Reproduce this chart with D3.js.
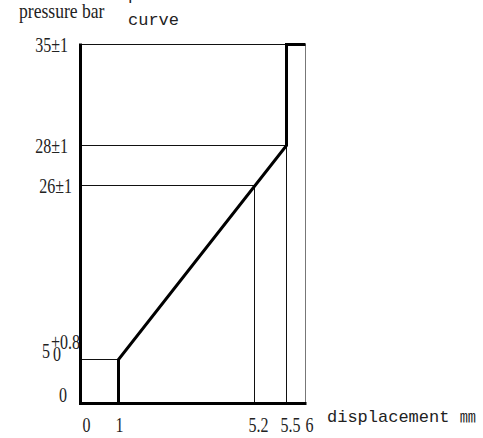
<!DOCTYPE html>
<html>
<head>
<meta charset="utf-8">
<script src="https://cdn.jsdelivr.net/npm/d3@7"></script>
<style>
  body { margin: 0; background: #fff; }
  text { fill: #222; }
  .tick-label { font-family: "Liberation Serif", serif; font-size: 20px; }
  .mono { font-family: "Liberation Mono", monospace; font-size: 17px; }
</style>
</head>
<body>
<svg id="chart" width="483" height="438"></svg>
<script>
// pressure (bar) vs displacement (mm), schematic drawing
const xTickValues = [0, 1, 5.2, 5.5, 6];
const xTickLabels = ['0', '1', '5.2', '5.5', '6'];
const yTickValues = [0, 5, 26, 28, 35];
const yTickLabels = ['0', '5', '26±1', '28±1', '35±1'];
const fiveTolUpper = '+0.8';
const fiveTolLower = '0';

// the thick curve
const curveDisp = [1, 1, 5.5, 5.5, 6];
const curvePress = [0, 5, 28, 35, 35];

// thin guide lines: level reached at a given displacement
const guideDisp = [1, 5.2, 5.5, 6];
const guidePress = [5, 26, 28, 35];

const svg = d3.select('#chart');

// the drawing is not to scale, so piecewise scales
const x = d3.scaleLinear()
    .domain([0, 1, 5.2, 5.5, 6])
    .range([80.5, 118.5, 254.5, 286.5, 305.5]);
const y = d3.scaleLinear()
    .domain([0, 5, 26, 28, 35])
    .range([403.5, 359.5, 185.5, 145.5, 44.5]);

const g = svg.append('g');

// horizontal guides
g.selectAll('.hguide')
    .data(guidePress)
    .enter().append('line')
    .attr('x1', x(0))
    .attr('x2', (d, i) => x(guideDisp[i]))
    .attr('y1', d => y(d))
    .attr('y2', d => y(d))
    .attr('stroke', '#111')
    .attr('stroke-width', 1);

// vertical guides
g.selectAll('.vguide')
    .data(guideDisp)
    .enter().append('line')
    .attr('x1', d => x(d))
    .attr('x2', d => x(d))
    .attr('y1', y(0))
    .attr('y2', (d, i) => y(guidePress[i]))
    .attr('stroke', (d, i) => i === guideDisp.length - 1 ? '#777' : '#111')
    .attr('stroke-width', 1);

// axes as thick lines
g.append('line')
    .attr('x1', x(0)).attr('x2', x(0))
    .attr('y1', y(35) - 1).attr('y2', y(0) + 1.5)
    .attr('stroke', '#000').attr('stroke-width', 3);
g.append('line')
    .attr('x1', x(0) - 1.5).attr('x2', x(6) + 1)
    .attr('y1', y(0)).attr('y2', y(0))
    .attr('stroke', '#000').attr('stroke-width', 3);

const line = d3.line()
    .x(d => x(d[0]))
    .y(d => y(d[1]));

g.append('path')
    .datum(curveDisp.map((d, i) => [d, curvePress[i]]))
    .attr('d', line)
    .attr('fill', 'none')
    .attr('stroke', '#000')
    .attr('stroke-width', 3)
    .attr('stroke-linejoin', 'miter');

// y tick labels (0 and 5 sit a bit above their level)
const yLab = svg.append('g');
yLab.selectAll('text')
    .data(yTickValues)
    .enter().append('text')
    .attr('class', 'tick-label')
    .attr('text-anchor', 'end')
    .attr('transform', (d, i) => {
        const lx = d === 5 ? 50 : (d === 26 ? 72 : (d === 0 ? 67 : 68));
        const ly = y(d) + (d < 10 ? -2 : 7);
        return `translate(${lx},${ly}) scale(0.8,1)`;
    })
    .text((d, i) => yTickLabels[i]);

yLab.append('text')
    .attr('class', 'tick-label')
    .attr('font-size', 12)
    .attr('transform', `translate(51,${y(5) - 11}) scale(0.8,1)`)
    .text(fiveTolUpper);
yLab.append('text')
    .attr('class', 'tick-label')
    .attr('font-size', 12)
    .attr('transform', `translate(53,${y(5) + 1}) scale(0.8,1)`)
    .text(fiveTolLower);

// x tick labels
svg.append('g').selectAll('text')
    .data(xTickValues)
    .enter().append('text')
    .attr('class', 'tick-label')
    .attr('text-anchor', 'middle')
    .attr('transform', (d, i) => `translate(${x(d) + (i === 0 ? 6 : (i === 1 ? 1 : 4))},432) scale(0.8,1)`)
    .text((d, i) => xTickLabels[i]);

// titles
svg.append('text')
    .attr('class', 'tick-label')
    .attr('font-size', 16)
    .attr('transform', 'translate(19,18) scale(0.88,1)')
    .text('pressure bar');

svg.append('text')
    .attr('class', 'mono')
    .attr('x', 128)
    .attr('y', 0)
    .text('pressure');

svg.append('text')
    .attr('class', 'mono')
    .attr('x', 128)
    .attr('y', 25)
    .text('curve');

const dispLabel = svg.append('text')
    .attr('class', 'mono')
    .attr('x', 327)
    .attr('y', 422)
    .text('displacement ');
dispLabel.append('tspan')
    .attr('font-family', '"Noto Sans CJK SC", sans-serif')
    .attr('font-size', 16)
    .text('㎜');
</script>
</body>
</html>
